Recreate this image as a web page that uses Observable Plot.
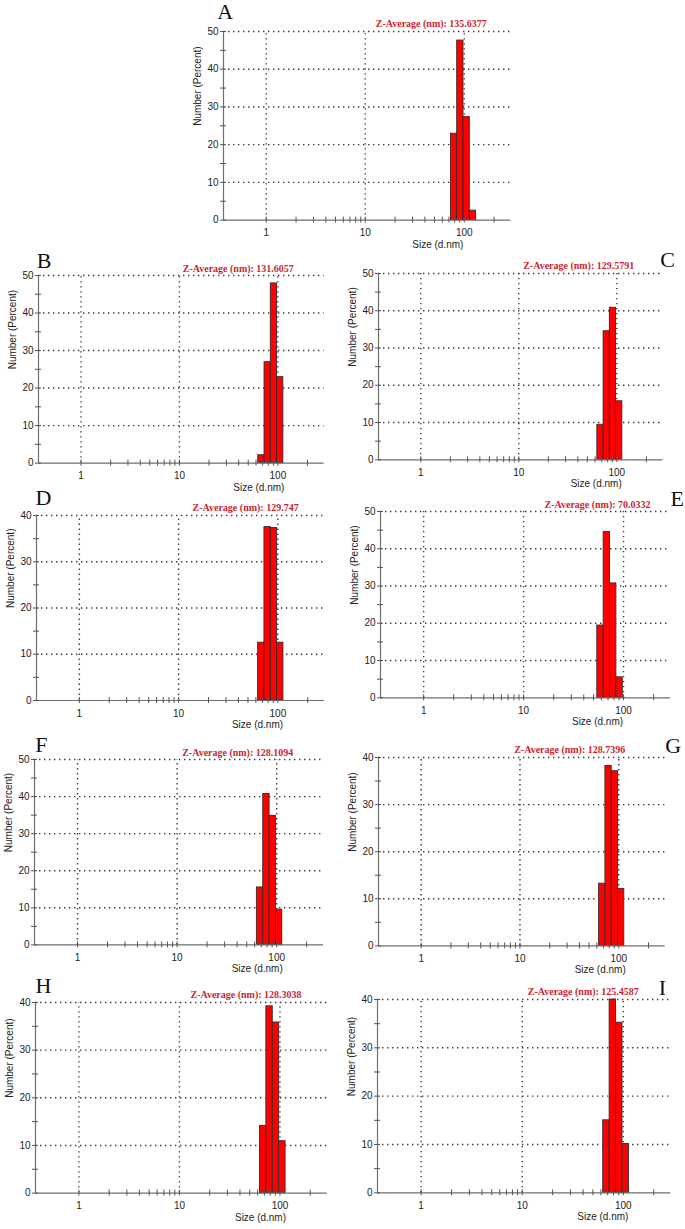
<!DOCTYPE html>
<html><head><meta charset="utf-8">
<script src="https://cdn.jsdelivr.net/npm/d3@7"></script>
<script src="https://cdn.jsdelivr.net/npm/@observablehq/plot@0.6"></script>
<style>
html,body{margin:0;padding:0;background:#fff;}
#page{position:relative;width:685px;height:1229px;overflow:hidden;background:#fff;}
#page svg{position:absolute;overflow:visible;}
</style></head><body><div id="page"></div>
<script>
// ---- data ----
const panels = ["A","B","C","D","E","F","G","H","I"];
const zAverages = ["135.6377","131.6057","129.5791","129.747","70.0332","128.1094","128.7396","128.3038","125.4587"];
// size classes (bin centres, d.nm)
const sizeClasses = [50.75, 58.77, 68.06, 78.82, 91.28, 105.7, 122.4, 141.8];
// number (percent) per size class
const numberA = [0, 0, 0, 22.9, 47.6, 27.3, 2.5, 0];
const numberB = [0, 0, 2.1, 26.9, 47.9, 22.9, 0, 0];
const numberC = [0, 0, 9.4, 34.5, 40.8, 15.7, 0, 0];
const numberD = [0, 0, 12.5, 37.5, 37.3, 12.5, 0, 0];
const numberE = [0, 19.4, 44.5, 30.7, 5.5, 0, 0, 0];
const numberF = [0, 0, 15.5, 40.7, 34.8, 9.5, 0, 0];
const numberG = [0, 0, 13.2, 38.2, 37.1, 12.1, 0, 0];
const numberH = [0, 0, 14.1, 39.2, 35.8, 10.9, 0, 0];
const numberI = [0, 0, 15.0, 40.0, 35.2, 10.1, 0, 0];
const series = [numberA, numberB, numberC, numberD, numberE, numberF, numberG, numberH, numberI];
const yMaxes = [50, 50, 50, 40, 50, 50, 40, 40, 40];
const xMajor = [1, 10, 100];
const xMinor = [2, 3, 4, 5, 6, 7, 8, 9, 20, 30, 40, 50, 60, 70, 80, 90, 200];
const yMajor = [0, 10, 20, 30, 40, 50];
const yMinor = [5, 15, 25, 35, 45];
const xDomain = [0.37, 295];

// ---- layout (page pixels) ----
const layout = [
  {L:222.7, R:510,   T:30.7,   B:219.3,  lx:216.5, ly:18.3,  zx:375, zy:23,  sx:437},
  {L:37.7,  R:323.3, T:274.7,  B:462.3,  lx:36,    ly:267,   zx:182, zy:268, sx:258},
  {L:378.3, R:662.7, T:273,    B:459.3,  lx:660,   ly:267,   zx:523, zy:265, sx:596},
  {L:36,    R:324,   T:515.3,  B:700.3,  lx:35,    ly:505,   zx:192, zy:508, sx:257},
  {L:380,   R:670,   T:510.7,  B:697,    lx:670,   ly:505,   zx:544, zy:504, sx:597},
  {L:34.3,  R:323.3, T:759.3,  B:944.7,  lx:35,    ly:752,   zx:182, zy:753, sx:257},
  {L:378.3, R:665,   T:757.3,  B:945.7,  lx:665,   ly:753,   zx:514, zy:750, sx:600},
  {L:35,    R:326.7, T:1001.7, B:1192.3, lx:35,    ly:992,   zx:190, zy:994, sx:260},
  {L:376.7, R:670,   T:999,    B:1192.3, lx:658,   ly:995,   zx:527, zy:991, sx:602}
];

const ml = 45, mr = 22, mt = 36, mb = 40;
const sans = "'Liberation Sans', Arial, Helvetica, sans-serif";
const serif = "'Liberation Serif', 'Times New Roman', Times, serif";
const dotted = {stroke: "#3a3a3a", strokeWidth: 1.4, strokeDasharray: "1.4,3.6"};
const page = document.getElementById("page");

layout.forEach((g, i) => {
  const ymax = yMaxes[i];
  const vals = series[i];
  const n = sizeClasses.length;
  const bars = sizeClasses.map((c, j) => {
    const prev = j > 0 ? sizeClasses[j - 1] : c * c / sizeClasses[1];
    const next = j < n - 1 ? sizeClasses[j + 1] : c * c / sizeClasses[n - 2];
    return {lo: Math.sqrt(prev * c), hi: Math.sqrt(c * next), v: vals[j]};
  }).filter(d => d.v > 0);
  const w = g.R - g.L, h = g.B - g.T;
  const ticksY = yMajor.filter(v => v <= ymax);
  const allY = ticksY.concat(yMinor.filter(v => v <= ymax));
  const chart = Plot.plot({
    width: w + ml + mr, height: h + mt + mb,
    marginLeft: ml, marginRight: mr, marginTop: mt, marginBottom: mb,
    x: {type: "log", domain: xDomain, axis: null},
    y: {domain: [0, ymax], axis: null},
    style: {background: "transparent", fontFamily: sans, fontSize: "10px", color: "#222", overflow: "visible"},
    marks: [
      Plot.ruleY(ticksY.filter(v => v > 0), dotted),
      Plot.ruleX(xMajor, {y1: 0, y2: ymax, ...dotted}),
      Plot.rect(bars, {x1: "lo", x2: "hi", y1: 0, y2: "v", fill: "#ff0000", stroke: "#3a2a2a", strokeWidth: 0.9}),
      Plot.ruleY([0], {stroke: "#6e6e6e", strokeWidth: 1.2}),
      Plot.ruleX([xDomain[0]], {stroke: "#6e6e6e", strokeWidth: 1.2}),
      Plot.axisX(xMajor.concat(xMinor), {tickSize: 6, dy: -3, tickFormat: () => "", stroke: "#555", label: null}),
      Plot.axisX(xMajor, {tickSize: 0, tickPadding: 9, tickFormat: d => String(d), fill: "#222", fontSize: 10, label: null}),
      Plot.axisY(allY, {tickSize: 6, dx: 3, tickFormat: () => "", stroke: "#555", label: null}),
      Plot.axisY(ticksY, {tickSize: 0, tickPadding: 5, tickFormat: d => String(d), fill: "#222", fontSize: 10, label: null}),
      Plot.text(["Number (Percent)"], {frameAnchor: "left", rotate: -90, dx: -25.7, fontSize: 10, fill: "#222"}),
      Plot.text(["Size (d.nm)"], {frameAnchor: "bottom", dx: g.sx - (g.L + g.R) / 2, dy: 27.5, fontSize: 10, fill: "#222"}),
      Plot.text([panels[i]], {frameAnchor: "top-left", dx: g.lx - g.L, dy: g.ly - g.T, textAnchor: "start", lineAnchor: "bottom", fontSize: 22, fontFamily: serif, fill: "#111"}),
      Plot.text(["Z-Average (nm): " + zAverages[i]], {frameAnchor: "top-left", dx: g.zx - g.L, dy: g.zy - g.T, textAnchor: "start", lineAnchor: "middle", fontSize: 10, fontWeight: "bold", fontFamily: serif, fill: "#cc1f2f"})
    ]
  });
  chart.style.left = (g.L - ml) + "px";
  chart.style.top = (g.T - mt) + "px";
  page.appendChild(chart);
});
</script>
</body></html>
